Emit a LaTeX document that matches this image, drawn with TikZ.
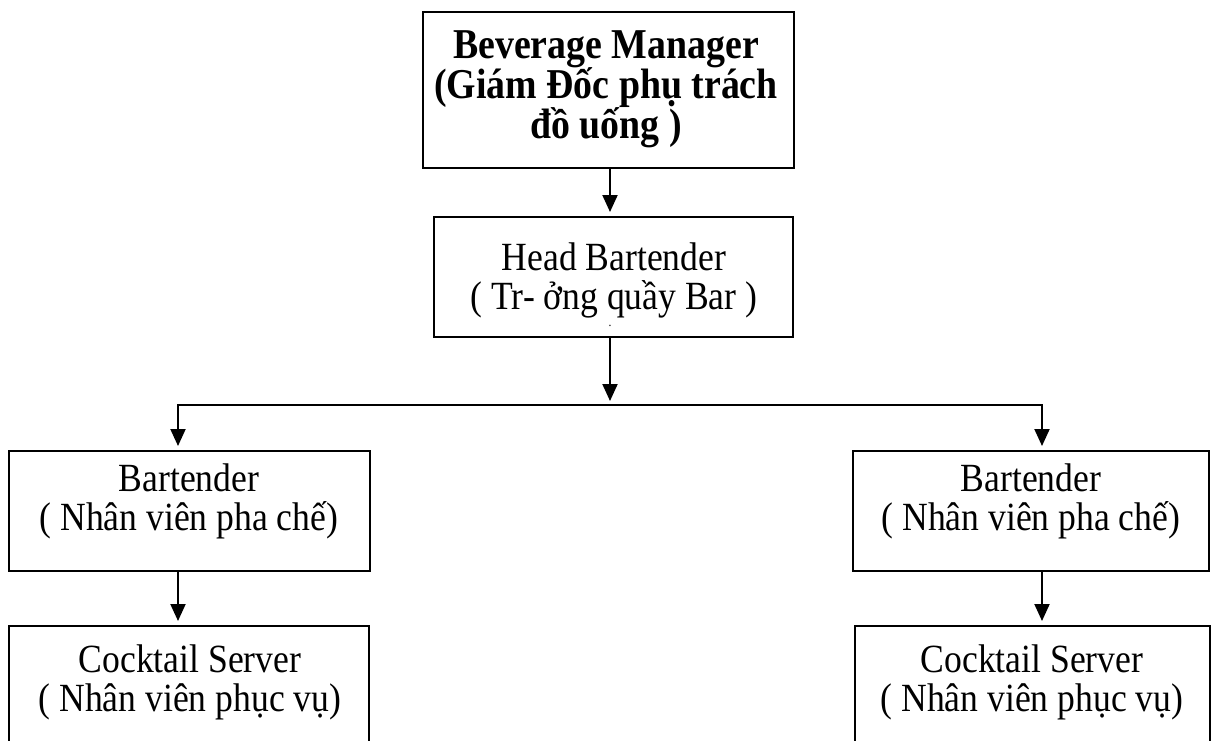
\documentclass[tikz,border=0pt]{standalone}
\usepackage{fontspec}
\setmainfont{Liberation Serif}[FakeStretch=0.89]
\usetikzlibrary{arrows.meta}
\lineskiplimit=-100pt
\begin{document}
\begin{tikzpicture}[x=1pt,y=-1pt,
  box/.style={draw, line width=2pt, inner sep=0pt},
  txt/.style={align=center, inner sep=0pt, anchor=north, font=\fontsize{40}{39}\selectfont},
  btxt/.style={txt, font=\fontsize{42.5}{40}\selectfont\bfseries},
  conn/.style={line width=2pt},
  arr/.style={conn, -{Triangle[width=15pt,length=17pt]}, shorten >=4pt}]
\useasboundingbox (0,0) rectangle (1212,740);
\clip (0,0) rectangle (1212,740);
% boxes
\node[box, minimum width=371pt, minimum height=156pt] (bm) at (608.5,90) {};
\node[btxt] (bmt) at (606,30) {Beverage Manager\\(Giám Đốc phụ trách\\đồ uống )};
\node[box, minimum width=359pt, minimum height=120pt] (hb) at (613.5,277) {};
\node[txt] (hbt) at (614,243) {Head Bartender\\( Tr- ởng quầy Bar )};
\node[inner sep=0pt, font=\fontsize{13}{13}\selectfont] (dot) at (610,326) {.};
\node[box, minimum width=361pt, minimum height=120pt] (b1) at (189.5,511) {};
\node[txt] (b1t) at (189,464) {Bartender\\( Nhân viên pha chế)};
\node[box, minimum width=356pt, minimum height=120pt] (b2) at (1031,511) {};
\node[txt] (b2t) at (1031,464) {Bartender\\( Nhân viên pha chế)};
\node[box, minimum width=360pt, minimum height=174pt] (c1) at (189,713) {};
\node[txt] (c1t) at (190,645) {Cocktail Server\\( Nhân viên phục vụ)};
\node[box, minimum width=355pt, minimum height=174pt] (c2) at (1032.5,713) {};
\node[txt] (c2t) at (1032,645) {Cocktail Server\\( Nhân viên phục vụ)};
% connectors
\coordinate (sp) at (610,405);
\coordinate (jl) at (178,405);
\coordinate (jr) at (1042,405);
\draw[arr] (bm.south -| sp) -- (hb.north -| sp);
\draw[arr] (hb.south -| sp) -- (sp);
\draw[conn, line cap=rect] (jl) -- (jr);
\draw[arr] (jl) -- (b1.north -| jl);
\draw[arr] (jr) -- (b2.north -| jr);
\draw[arr] (b1.south -| jl) -- (c1.north -| jl);
\draw[arr] (b2.south -| jr) -- (c2.north -| jr);
\end{tikzpicture}
\end{document}
